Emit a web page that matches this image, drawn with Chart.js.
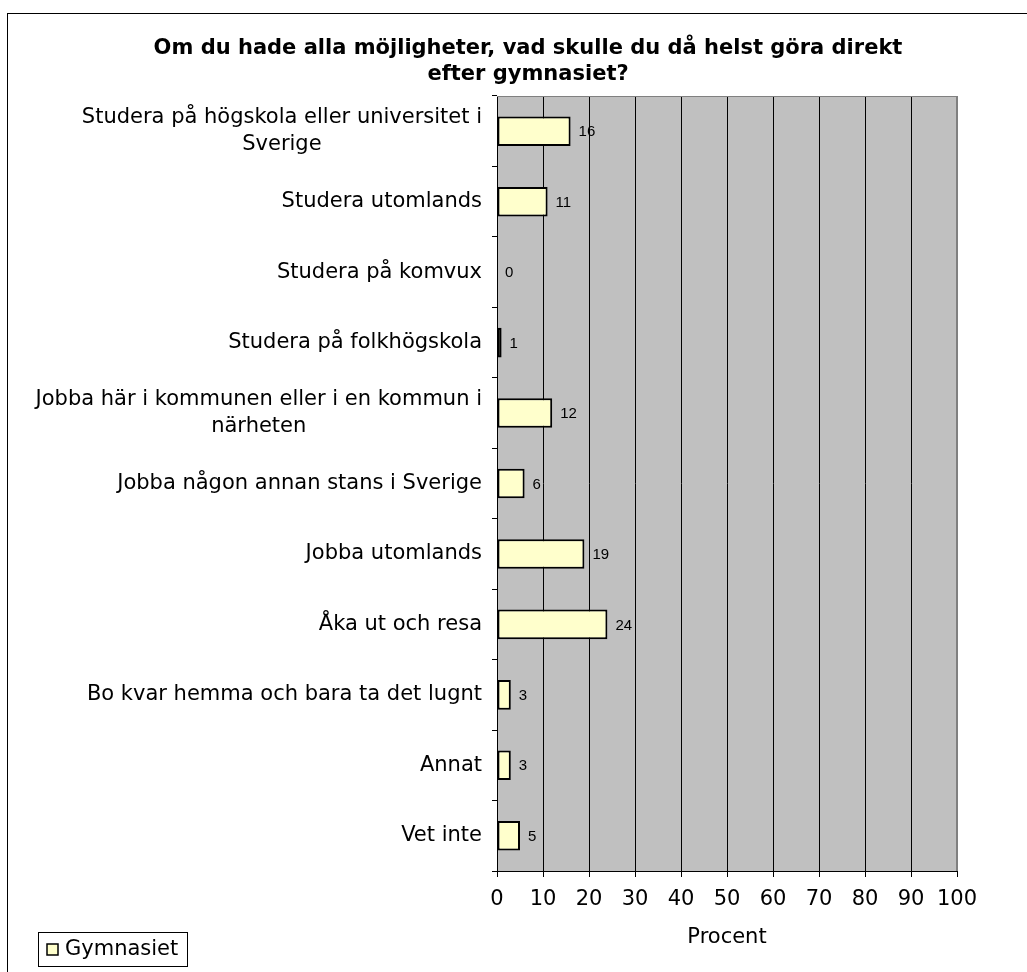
<!DOCTYPE html>
<html>
<head>
<meta charset="utf-8">
<script src="https://cdn.jsdelivr.net/npm/chart.js@4/dist/chart.umd.min.js"></script>
<style>
html,body{margin:0;padding:0;background:#fff;}
canvas{display:block;}
</style>
</head>
<body>
<canvas id="c" width="1027" height="972"></canvas>
<script>
const titleLines = ["Om du hade alla möjligheter, vad skulle du då helst göra direkt", "efter gymnasiet?"];
const categories = [
  ["Studera på högskola eller universitet i", "Sverige"],
  "Studera utomlands",
  "Studera på komvux",
  "Studera på folkhögskola",
  ["Jobba här i kommunen eller i en kommun i", "närheten"],
  "Jobba någon annan stans i Sverige",
  "Jobba utomlands",
  "Åka ut och resa",
  "Bo kvar hemma och bara ta det lugnt",
  "Annat",
  "Vet inte"
];
const values = [16, 11, 0, 1, 12, 6, 19, 24, 3, 3, 5];
const seriesName = "Gymnasiet";
const axisTitle = "Procent";
const xMin = 0, xMax = 100, xStep = 10;

const FONT = 'DejaVu Sans';
Chart.defaults.font.family = FONT;
Chart.defaults.color = '#000';

const deco = {
  id: 'deco',
  beforeDraw(chart) {
    const {ctx, chartArea: a} = chart;
    ctx.save();
    ctx.fillStyle = '#fff';
    ctx.fillRect(0, 0, chart.width, chart.height);
    ctx.fillStyle = '#C0C0C0';
    ctx.fillRect(a.left, a.top, a.right - a.left, a.bottom - a.top);
    ctx.restore();
  },
  afterDatasetsDraw(chart) {
    const {ctx} = chart;
    const meta = chart.getDatasetMeta(0);
    ctx.save();
    ctx.font = '15px "Liberation Sans"';
    ctx.fillStyle = '#000';
    ctx.textAlign = 'left';
    ctx.textBaseline = 'middle';
    meta.data.forEach((bar, i) => {
      ctx.fillText(String(values[i]), bar.x + 8, bar.y + 1);
    });
    ctx.restore();
  },
  afterDraw(chart) {
    const {ctx, chartArea: a} = chart;
    const ys = chart.scales.y;
    ctx.save();
    ctx.strokeStyle = '#808080';
    ctx.lineWidth = 1;
    ctx.beginPath();
    ctx.moveTo(a.left, a.top + 0.5);
    ctx.lineTo(a.right, a.top + 0.5);
    ctx.stroke();
    ctx.lineWidth = 2;
    ctx.beginPath();
    ctx.moveTo(a.right, a.top);
    ctx.lineTo(a.right, a.bottom);
    ctx.stroke();
    ctx.font = '21px "' + FONT + '"';
    ctx.fillStyle = '#000';
    ctx.textAlign = 'center';
    ctx.textBaseline = 'middle';
    const rightX = ys.right - 5 - 10;
    const lh = 27;
    categories.forEach((lab, i) => {
      const lines = Array.isArray(lab) ? lab : [lab];
      const w = Math.max(...lines.map(l => ctx.measureText(l).width));
      const cx = rightX - w / 2;
      const cy = ys.getPixelForTick(i);
      lines.forEach((l, k) => {
        ctx.fillText(l, cx, cy - (lines.length - 1) * lh / 2 + k * lh);
      });
    });
    ctx.strokeStyle = '#000';
    ctx.lineWidth = 1;
    ctx.strokeRect(38.5, 932.5, 149, 34);
    ctx.fillStyle = '#FFFFCC';
    ctx.fillRect(47, 944, 11, 11);
    ctx.lineWidth = 1.5;
    ctx.strokeRect(47, 944, 11, 11);
    ctx.fillStyle = '#000';
    ctx.textAlign = 'left';
    ctx.fillText(seriesName, 65, 950);
    ctx.lineWidth = 1;
    ctx.strokeStyle = '#000';
    ctx.strokeRect(7.5, 13.5, 1200, 1200);
    ctx.restore();
  }
};

new Chart(document.getElementById('c'), {
  type: 'bar',
  data: {
    labels: categories,
    datasets: [{
      label: seriesName,
      data: values,
      backgroundColor: '#FFFFCC',
      borderColor: '#000',
      borderWidth: 2,
      borderSkipped: false,
      barPercentage: 0.42,
      categoryPercentage: 1
    }]
  },
  options: {
    indexAxis: 'y',
    responsive: false,
    animation: false,
    layout: {padding: {left: 29, right: 0, top: 14, bottom: 0}},
    plugins: {
      legend: {display: false},
      tooltip: {enabled: false},
      title: {
        display: true,
        text: titleLines,
        color: '#000',
        font: {family: FONT, size: 21, weight: 'bold', lineHeight: 26 / 21},
        padding: {top: 22, bottom: 8}
      }
    },
    scales: {
      x: {
        type: 'linear',
        min: xMin,
        max: xMax,
        position: 'bottom',
        ticks: {stepSize: xStep, padding: 10, maxRotation: 0, minRotation: 0, autoSkip: false, font: {family: FONT, size: 21}, color: '#000'},
        grid: {
          color: ctx => (ctx.tick && ctx.tick.value === xMax) ? 'rgba(0,0,0,0)' : '#000',
          tickColor: '#000',
          lineWidth: 1,
          tickLength: 6,
          drawOnChartArea: true
        },
        border: {display: true, color: '#000', width: 1},
        title: {display: true, text: axisTitle, color: '#000', font: {family: FONT, size: 21}, padding: {top: 0, bottom: 22}},
        afterFit(s) { s.height = 101; }
      },
      y: {
        type: 'category',
        position: 'left',
        ticks: {display: false},
        grid: {display: true, drawOnChartArea: false, drawTicks: true, tickLength: 5, color: '#000', tickColor: '#000'},
        border: {display: true, color: '#000', width: 1},
        afterFit(s) { s.width = 468; }
      },
      r: {
        type: 'linear',
        position: 'right',
        display: true,
        grid: {display: false},
        border: {display: false},
        ticks: {display: false},
        afterFit(s) { s.width = 70; }
      }
    }
  },
  plugins: [deco]
});
</script>
</body>
</html>
